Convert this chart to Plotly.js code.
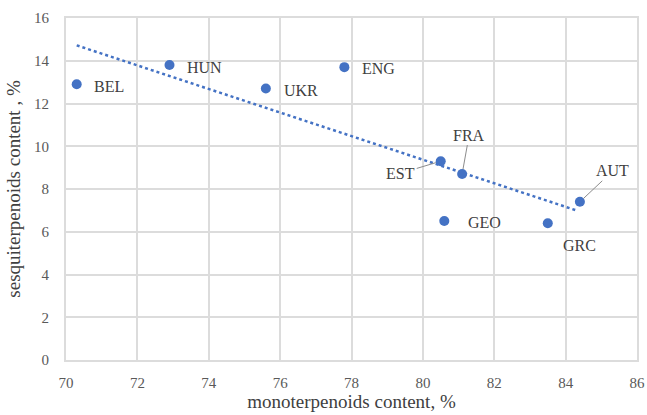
<!DOCTYPE html>
<html>
<head>
<meta charset="utf-8">
<script src="https://cdn.plot.ly/plotly-3.0.1.min.js"></script>
<style>html,body{margin:0;padding:0;background:#fff;}#chart{width:647px;height:415px;}</style>
</head>
<body>
<div id="chart"></div>
<script>
const countries = ["BEL", "HUN", "UKR", "ENG", "EST", "FRA", "GEO", "GRC", "AUT"];
const monoterpenoids = [70.3, 72.9, 75.6, 77.8, 80.5, 81.1, 80.6, 83.5, 84.4];
const sesquiterpenoids = [12.9, 13.8, 12.7, 13.7, 9.3, 8.7, 6.5, 6.4, 7.4];
const trendX = [70.3, 84.3];
const trendY = [14.72, 7.0];

const serif = "Liberation Serif";
const blue = "#4472C4";

// label placement (pixel offsets from each point)
const labelOpts = {
  BEL: {xshift: 15, yshift: -2},
  HUN: {xshift: 16, yshift: -2},
  UKR: {xshift: 16, yshift: -2},
  ENG: {xshift: 16, yshift: -1},
  GEO: {xshift: 22, yshift: -1},
  GRC: {xshift: 13, yshift: -22},
  EST: {arrow: true, ax: -40, ay: 12},
  FRA: {arrow: true, ax: 7, ay: -39},
  AUT: {arrow: true, ax: 33, ay: -31}
};

const annotations = countries.map((c, i) => {
  const o = labelOpts[c];
  const base = {
    x: monoterpenoids[i], y: sesquiterpenoids[i], xref: "x", yref: "y",
    text: c, font: {family: serif, size: 16, color: "#404040"}
  };
  if (o.arrow) {
    return Object.assign(base, {
      showarrow: true, arrowhead: 0, arrowwidth: 1, arrowcolor: "#8c8c8c",
      ax: o.ax, ay: o.ay, standoff: 5
    });
  }
  return Object.assign(base, {
    showarrow: false, xanchor: "left", yanchor: "middle",
    xshift: o.xshift, yshift: o.yshift
  });
});

const traces = [
  {
    x: trendX, y: trendY, type: "scatter", mode: "lines",
    line: {color: blue, width: 2.5, dash: "dot"}, hoverinfo: "skip"
  },
  {
    x: monoterpenoids, y: sesquiterpenoids, type: "scatter", mode: "markers",
    marker: {color: blue, size: 10}, text: countries
  }
];

const axisCommon = {
  showgrid: true, gridcolor: "#dcdcdc", gridwidth: 2,
  showline: true, mirror: true, linecolor: "#dcdcdc", linewidth: 2,
  zeroline: false, ticks: "",
  tickfont: {family: serif, size: 15, color: "#595959"}
};

const layout = {
  width: 647, height: 415,
  font: {family: serif},
  margin: {l: 66, r: 10, t: 18, b: 55},
  paper_bgcolor: "#ffffff", plot_bgcolor: "#ffffff",
  showlegend: false,
  xaxis: Object.assign({}, axisCommon, {
    range: [70, 86], dtick: 2, tick0: 70, ticklabelstandoff: 8,
    title: {text: "monoterpenoids content, %", font: {family: serif, size: 19, color: "#404040"}, standoff: 5}
  }),
  yaxis: Object.assign({}, axisCommon, {
    range: [0, 16], dtick: 2, tick0: 0, ticklabelstandoff: 12,
    title: {text: "sesquiterpenoids content , %", font: {family: serif, size: 19, color: "#404040"}, standoff: 8}
  }),
  annotations: annotations
};

Plotly.newPlot("chart", traces, layout, {displayModeBar: false, staticPlot: true});
</script>
</body>
</html>
